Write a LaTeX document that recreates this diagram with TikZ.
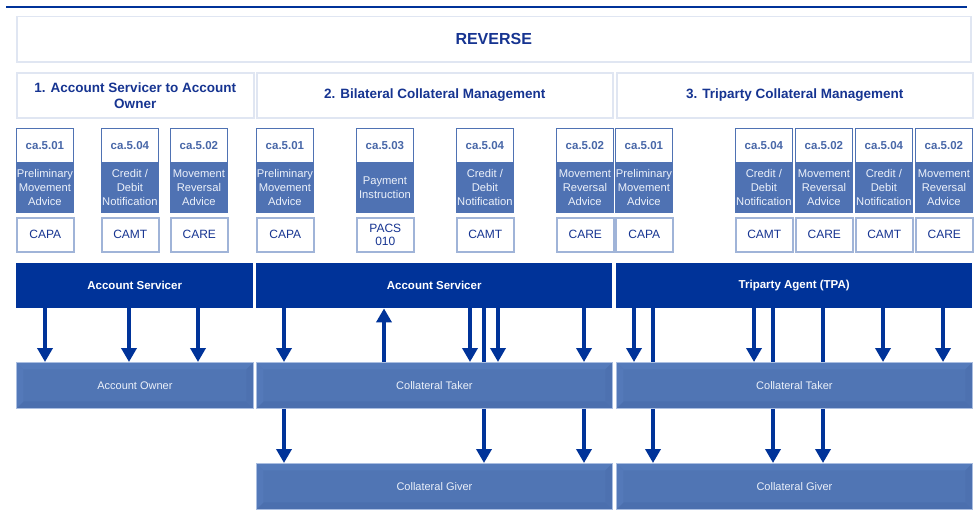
\documentclass[tikz,border=0pt]{standalone}
\usepackage{fontspec}
\setmainfont{Liberation Sans}
\usetikzlibrary{arrows.meta,calc}

\definecolor{dkblue}{RGB}{0,51,153}
\definecolor{hdtext}{RGB}{22,52,145}
\definecolor{cardblue}{RGB}{79,114,179}
\definecolor{codetext}{RGB}{72,103,168}
\definecolor{typeborder}{RGB}{160,180,216}
\definecolor{hdborder}{RGB}{224,230,242}
\definecolor{barface}{RGB}{80,117,180}
\definecolor{barborder}{RGB}{170,190,225}
\definecolor{bevtop}{RGB}{85,123,187}
\definecolor{bevleft}{RGB}{84,121,185}
\definecolor{bevbot}{RGB}{75,111,174}
\definecolor{bevright}{RGB}{77,113,176}
\definecolor{paletext}{RGB}{236,241,250}

\tikzset{
  hdbox/.style={draw=hdborder, line width=1.5pt, fill=white, anchor=north west,
    inner sep=0pt, align=center, text=hdtext, font=\bfseries\fontsize{13.5}{16}\selectfont},
  codebox/.style={draw=cardblue, line width=0.8pt, fill=white, anchor=north west,
    minimum width=57pt, minimum height=34pt, inner sep=0pt, text=codetext,
    font=\bfseries\fontsize{11.5}{13}\selectfont},
  descbox/.style={draw=cardblue, line width=0.8pt, fill=cardblue, anchor=north west,
    minimum width=57pt, minimum height=50pt, inner sep=0pt, align=center, text=paletext,
    font=\fontsize{11.2}{13.8}\selectfont},
  typebox/.style={draw=typeborder, line width=1.6pt, fill=white, anchor=north west,
    minimum width=57pt, minimum height=34pt, inner sep=0pt, align=center, text=hdtext,
    font=\fontsize{12}{13}\selectfont},
  darkbar/.style={fill=dkblue, anchor=north west, minimum height=45pt, inner sep=0pt,
    text=white, font=\bfseries\fontsize{11.5}{13}\selectfont},
  partybar/.style={draw=barborder, line width=0.8pt, fill=barface, anchor=north west,
    minimum height=46pt, inner sep=0pt, text=paletext, font=\fontsize{11}{13}\selectfont,
    path picture={
      \fill[bevtop] (path picture bounding box.north west) -- (path picture bounding box.north east)
        -- ([xshift=-7pt,yshift=-7pt]path picture bounding box.north east)
        -- ([xshift=7pt,yshift=-7pt]path picture bounding box.north west) -- cycle;
      \fill[bevbot] (path picture bounding box.south west) -- (path picture bounding box.south east)
        -- ([xshift=-7pt,yshift=7pt]path picture bounding box.south east)
        -- ([xshift=7pt,yshift=7pt]path picture bounding box.south west) -- cycle;
      \fill[bevleft] (path picture bounding box.north west) -- (path picture bounding box.south west)
        -- ([xshift=7pt,yshift=7pt]path picture bounding box.south west)
        -- ([xshift=7pt,yshift=-7pt]path picture bounding box.north west) -- cycle;
      \fill[bevright] (path picture bounding box.north east) -- (path picture bounding box.south east)
        -- ([xshift=-7pt,yshift=7pt]path picture bounding box.south east)
        -- ([xshift=-7pt,yshift=-7pt]path picture bounding box.north east) -- cycle;
    }},
  arr/.style={draw=dkblue, line width=4pt, -{Triangle[width=15pt,length=14pt]}},
  thru/.style={draw=dkblue, line width=4pt},
}

\newcommand\msgcard[5]{%
  \node[codebox] (#1c) at (#2,128) {#3};
  \node[descbox] (#1d) at (#2,162) {#4};
  \node[typebox] (#1t) at (#2,217) {#5};
}

\begin{document}
\begin{tikzpicture}[x=1pt,y=-1pt]
\useasboundingbox[fill=white] (0,0) rectangle (976,519);

% top rule
\draw[dkblue, line width=2.4pt] (6,7) -- (967,7);

% title
\node[hdbox, minimum width=954pt, minimum height=45pt, font=\bfseries\fontsize{16}{18}\selectfont] (rev) at (16,16) {REVERSE};

% section headers
\node[hdbox, minimum width=237pt, minimum height=45pt] (s1) at (16,72) {1. Account Servicer to Account\\Owner};
\node[hdbox, minimum width=356pt, minimum height=45pt] (s2) at (256,72) {2. Bilateral Collateral Management};
\node[hdbox, minimum width=356pt, minimum height=45pt] (s3) at (616,72) {3. Triparty Collateral Management};

% message cards
\msgcard{a1}{16}{ca.5.01}{Preliminary\\Movement\\Advice}{CAPA}
\msgcard{a2}{101}{ca.5.04}{Credit /\\Debit\\Notification}{CAMT}
\msgcard{a3}{170}{ca.5.02}{Movement\\Reversal\\Advice}{CARE}

\msgcard{b1}{256}{ca.5.01}{Preliminary\\Movement\\Advice}{CAPA}
\msgcard{b2}{356}{ca.5.03}{Payment\\Instruction}{PACS\\010}
\msgcard{b3}{456}{ca.5.04}{Credit /\\Debit\\Notification}{CAMT}
\msgcard{b4}{556}{ca.5.02}{Movement\\Reversal\\Advice}{CARE}

\msgcard{c1}{615}{ca.5.01}{Preliminary\\Movement\\Advice}{CAPA}
\msgcard{c2}{735}{ca.5.04}{Credit /\\Debit\\Notification}{CAMT}
\msgcard{c3}{795}{ca.5.02}{Movement\\Reversal\\Advice}{CARE}
\msgcard{c4}{855}{ca.5.04}{Credit /\\Debit\\Notification}{CAMT}
\msgcard{c5}{915}{ca.5.02}{Movement\\Reversal\\Advice}{CARE}

% parties
\node[darkbar, minimum width=237pt] (serv1) at (16,263) {Account Servicer};
\node[darkbar, minimum width=356pt] (serv2) at (256,263) {Account Servicer};
\node[darkbar, minimum width=356pt] (tpa) at (616,263) {Triparty Agent (TPA)};

\node[partybar, minimum width=237pt] (owner) at (16,362) {Account Owner};
\node[partybar, minimum width=356pt] (taker2) at (256,362) {Collateral Taker};
\node[partybar, minimum width=356pt] (taker3) at (616,362) {Collateral Taker};
\node[partybar, minimum width=356pt] (giver2) at (256,463) {Collateral Giver};
\node[partybar, minimum width=356pt] (giver3) at (616,463) {Collateral Giver};

% column coordinates
\coordinate (x45) at (45,0);
\coordinate (x129) at (129,0);
\coordinate (x198) at (198,0);
\coordinate (x284) at (284,0);
\coordinate (x384) at (384,0);
\coordinate (x470) at (470,0);
\coordinate (x484) at (484,0);
\coordinate (x498) at (498,0);
\coordinate (x584) at (584,0);
\coordinate (x634) at (634,0);
\coordinate (x653) at (653,0);
\coordinate (x754) at (754,0);
\coordinate (x773) at (773,0);
\coordinate (x823) at (823,0);
\coordinate (x883) at (883,0);
\coordinate (x943) at (943,0);

% section 1
\draw[arr] (serv1.south -| x45) -- (owner.north -| x45);
\draw[arr] (serv1.south -| x129) -- (owner.north -| x129);
\draw[arr] (serv1.south -| x198) -- (owner.north -| x198);

% section 2
\draw[arr] (serv2.south -| x284) -- (taker2.north -| x284);
\draw[arr] (taker2.north -| x384) -- (serv2.south -| x384);
\draw[arr] (serv2.south -| x470) -- (taker2.north -| x470);
\draw[thru] (serv2.south -| x484) -- (taker2.north -| x484);
\draw[arr] (serv2.south -| x498) -- (taker2.north -| x498);
\draw[arr] (serv2.south -| x584) -- (taker2.north -| x584);
\draw[arr] (taker2.south -| x284) -- (giver2.north -| x284);
\draw[arr] (taker2.south -| x484) -- (giver2.north -| x484);
\draw[arr] (taker2.south -| x584) -- (giver2.north -| x584);

% section 3
\draw[arr] (tpa.south -| x634) -- (taker3.north -| x634);
\draw[thru] (tpa.south -| x653) -- (taker3.north -| x653);
\draw[arr] (tpa.south -| x754) -- (taker3.north -| x754);
\draw[thru] (tpa.south -| x773) -- (taker3.north -| x773);
\draw[thru] (tpa.south -| x823) -- (taker3.north -| x823);
\draw[arr] (tpa.south -| x883) -- (taker3.north -| x883);
\draw[arr] (tpa.south -| x943) -- (taker3.north -| x943);
\draw[arr] (taker3.south -| x653) -- (giver3.north -| x653);
\draw[arr] (taker3.south -| x773) -- (giver3.north -| x773);
\draw[arr] (taker3.south -| x823) -- (giver3.north -| x823);
\end{tikzpicture}
\end{document}
